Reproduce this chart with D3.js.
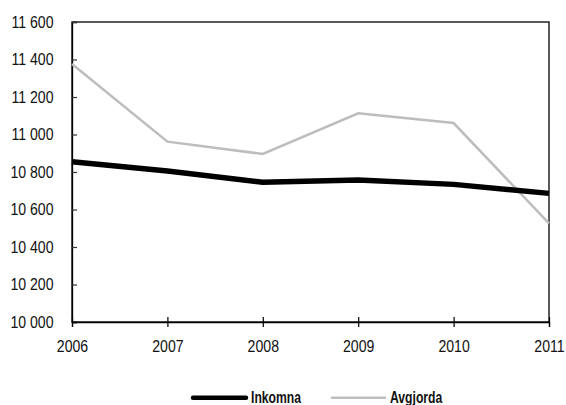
<!DOCTYPE html>
<html><head><meta charset="utf-8">
<script src="https://cdn.jsdelivr.net/npm/d3@7"></script>
<style>
body{margin:0;background:#fff;}
svg text{font-family:"Liberation Sans",Arial,sans-serif;}
</style></head>
<body><svg id="c" width="566" height="405"></svg>
<script>
const years = [2006, 2007, 2008, 2009, 2010, 2011];
const inkomna = [10855, 10805, 10745, 10757, 10734, 10686];
const avgjorda = [11376, 10962, 10896, 11113, 11061, 10526];
const yTicks = [10000, 10200, 10400, 10600, 10800, 11000, 11200, 11400, 11600];
const seriesNames = ["Inkomna", "Avgjorda"];

const svg = d3.select("#c");
const L = 72, R = 549, T = 22, B = 322;
const SX = 0.83;
const x = d3.scalePoint().domain(years).range([L, R]);
const y = d3.scaleLinear().domain([10000, 11600]).range([B, T]);
const fmt = v => d3.format(",")(v).replace(/,/g, " ");

// frame
svg.append("rect").attr("x", L).attr("y", T).attr("width", R - L).attr("height", B - T)
  .attr("fill", "none").attr("stroke", "#000").attr("stroke-width", 1.3);

// y axis
const ya = svg.append("g").attr("transform", `translate(${L},0)`)
  .call(d3.axisRight(y).tickValues(yTicks).tickFormat(fmt).tickSize(5).tickPadding(0));
ya.select(".domain").attr("stroke", "#000").attr("stroke-width", 1.3);
ya.selectAll(".tick line").attr("stroke", "#333").attr("stroke-width", 1.2);
ya.selectAll(".tick text").attr("x", -18.5 / SX).attr("text-anchor", "end")
  .attr("transform", `scale(${SX},1)`)
  .attr("font-size", 17).attr("fill", "#111");

// x axis
const xa = svg.append("g").attr("transform", `translate(0,${B})`)
  .call(d3.axisBottom(x).tickSize(5).tickPadding(8).tickFormat(d => d));
xa.select(".domain").attr("stroke", "#000").attr("stroke-width", 1.3);
xa.selectAll(".tick line").attr("y1", -5).attr("y2", 5).attr("stroke", "#000").attr("stroke-width", 1.2);
xa.selectAll(".tick text").attr("y", 29.7).attr("dy", 0)
  .attr("transform", `scale(${SX},1)`)
  .attr("font-size", 17).attr("fill", "#111");

const line = d3.line().x((d, i) => x(years[i])).y(d => y(d));
svg.append("path").datum(avgjorda).attr("d", line).attr("fill", "none")
  .attr("stroke", "#bdbdbd").attr("stroke-width", 2.5);
svg.append("path").datum(inkomna).attr("d", line).attr("fill", "none")
  .attr("stroke", "#000").attr("stroke-width", 5.5);

// legend
const leg = [
  {name: seriesNames[0], x1: 193, color: "#000", w: 4.5},
  {name: seriesNames[1], x1: 332, color: "#bdbdbd", w: 2.5}
];
leg.forEach(l => {
  svg.append("line").attr("x1", l.x1).attr("x2", l.x1 + 53).attr("y1", 397.8).attr("y2", 397.8)
    .attr("stroke", l.color).attr("stroke-width", l.w).attr("stroke-linecap", "round");
  svg.append("text").attr("transform", `translate(${l.x1 + 58},403) scale(0.76,1)`)
    .attr("font-size", 16)
    .attr("font-weight", "bold").attr("fill", "#111").text(l.name);
});
</script></body></html>
